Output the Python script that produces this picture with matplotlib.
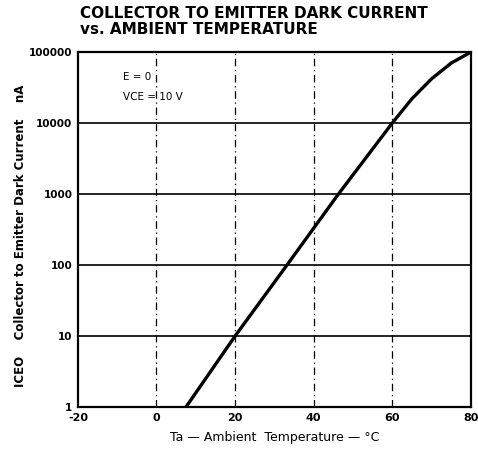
import numpy as np
import matplotlib
matplotlib.use("Agg")
import matplotlib.pyplot as plt

# curve
temp_c = [7.5, 20, 33.2, 46.3, 60, 65, 70, 75, 80]
iceo_na = [1, 10, 100, 1000, 10000, 22000, 42000, 70000, 100000]

x_ticks = [-20, 0, 20, 40, 60, 80]
x_grid = [0, 20, 40, 60]
y_ticks = [1, 10, 100, 1000, 10000, 100000]
y_labels = ["1", "10", "100", "1000", "10000", "100000"]

fig = plt.figure(figsize=(4.78, 4.61), dpi=100)
ax = fig.add_axes([0.163, 0.117, 0.822, 0.770])

ax.set_yscale("log")
ax.set_xlim(-20, 80)
ax.set_ylim(1, 100000)

# horizontal decade lines solid, vertical lines dash-dot
for y in y_ticks[1:-1]:
    ax.axhline(y, color="black", lw=1.2)
for x in x_grid:
    ax.axvline(x, color="black", lw=0.9, ls=(0, (6, 3, 1, 3)))

ax.plot(temp_c, iceo_na, color="black", lw=2.4, solid_capstyle="butt")

ax.set_xticks(x_ticks)
ax.set_xticklabels([str(t) for t in x_ticks], fontsize=8, fontweight="bold")
ax.set_yticks(y_ticks)
ax.set_yticklabels(y_labels, fontsize=7.5, fontweight="bold")
ax.minorticks_off()
ax.tick_params(length=0, pad=4)
for s in ax.spines.values():
    s.set_linewidth(1.6)

ax.text(-8.5, 44000, "E = 0", fontsize=7.5, va="center")
ax.text(-8.5, 23000, "VCE = 10 V", fontsize=7.5, va="center")

ax.set_xlabel("Ta — Ambient  Temperature — °C", fontsize=9, labelpad=6)
fig.text(0.042, 0.489, "ICEO    Collector to Emitter Dark Current    nA",
         fontsize=8.5, fontweight="bold", rotation=90, ha="center", va="center")

fig.text(0.167, 0.971, "COLLECTOR TO EMITTER DARK CURRENT",
         fontsize=11, fontweight="bold", ha="left", va="center")
fig.text(0.167, 0.936, "vs. AMBIENT TEMPERATURE",
         fontsize=11, fontweight="bold", ha="left", va="center")

fig.savefig("out.png", dpi=100)
